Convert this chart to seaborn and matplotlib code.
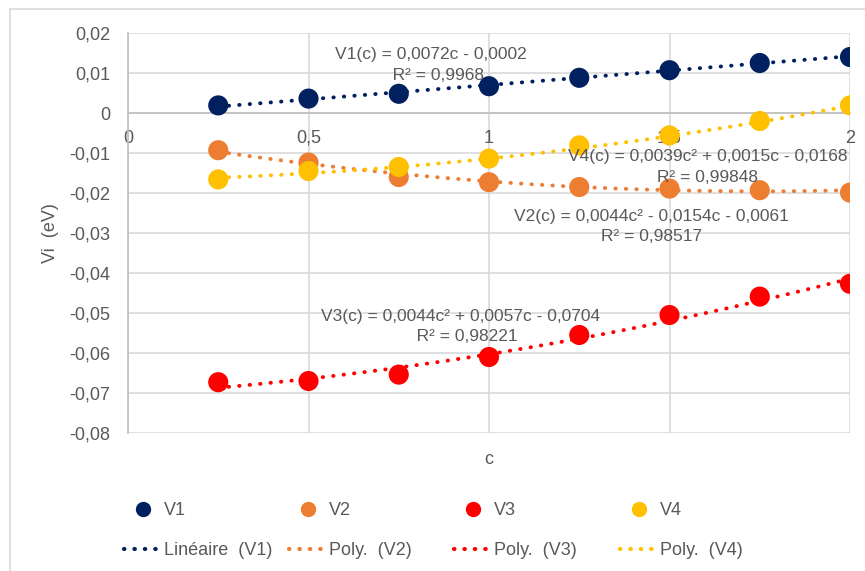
import numpy as np
import pandas as pd
import seaborn as sns
import matplotlib.pyplot as plt
from matplotlib.lines import Line2D
from matplotlib.patches import Rectangle

c = [0.25, 0.5, 0.75, 1.0, 1.25, 1.5, 1.75, 2.0]
v1 = [0.0019, 0.0036, 0.0048, 0.0067, 0.0088, 0.0107, 0.0125, 0.0140]
v2 = [-0.0093, -0.0124, -0.0160, -0.0173, -0.0185, -0.0189, -0.0193, -0.0199]
v3 = [-0.0673, -0.0670, -0.0654, -0.0610, -0.0555, -0.0505, -0.0459, -0.0427]
v4 = [-0.0166, -0.0145, -0.0135, -0.0114, -0.0081, -0.0056, -0.0020, 0.0019]

# trend line coefficients as shown on the chart (highest degree first)
fit_v1 = [0.0072, -0.0002]
fit_v2 = [0.0044, -0.0154, -0.0061]
fit_v3 = [0.0044, 0.0057, -0.0704]
fit_v4 = [0.0039, 0.0015, -0.0168]

series = ["V1", "V2", "V3", "V4"]
trend_labels = ["Linéaire  (V1)", "Poly.  (V2)", "Poly.  (V3)", "Poly.  (V4)"]
colors = {"V1": "#002060", "V2": "#ED7D31", "V3": "#FF0000", "V4": "#FFC000"}

yticks = [0.02, 0.01, 0, -0.01, -0.02, -0.03, -0.04, -0.05, -0.06, -0.07, -0.08]
xticks = [0, 0.5, 1, 1.5, 2]

df = pd.DataFrame({"c": c * 4, "Vi": v1 + v2 + v3 + v4,
                   "serie": [s for s in series for _ in c]})

sns.set_style("white")
plt.rcParams["font.family"] = ["Liberation Sans", "DejaVu Sans"]
grey = "#595959"

fig = plt.figure(figsize=(8.65, 5.71), dpi=100)
ax = fig.add_axes([128 / 865, 1 - 433 / 571, 722 / 865, 400 / 571])

# trend lines
cc = np.linspace(min(c), max(c), 200)
dot = (0, (0.1, 2.6))
for s, coef in zip(series, [fit_v1, fit_v2, fit_v3, fit_v4]):
    sns.lineplot(x=cc, y=np.polyval(coef, cc), ax=ax, color=colors[s],
                 lw=2.8, linestyle=dot, dash_capstyle="round", zorder=3)

sns.scatterplot(data=df, x="c", y="Vi", hue="serie", palette=colors, s=210,
                edgecolor="none", legend=False, ax=ax, zorder=4)

ax.set_xlim(0, 2)
ax.set_ylim(-0.08, 0.02)
ax.set_yticks(yticks)
ax.set_yticklabels([f"{t:g}".replace(".", ",") for t in yticks])
ax.set_xticks(xticks)
ax.set_xticklabels([f"{t:g}".replace(".", ",") for t in xticks])
ax.grid(True, color="#d9d9d9", lw=1.2)
ax.set_axisbelow(True)
for side in ["top", "right"]:
    ax.spines[side].set_visible(False)
ax.spines["left"].set_color("#bfbfbf")
ax.spines["left"].set_linewidth(1.2)
ax.spines["bottom"].set_position(("data", 0))
ax.spines["bottom"].set_color("#bfbfbf")
ax.spines["bottom"].set_linewidth(1.2)
ax.tick_params(axis="both", length=0, labelsize=13, labelcolor=grey)
ax.tick_params(axis="y", pad=13)
ax.tick_params(axis="x", pad=12)
ax.set_xlabel("c", fontsize=13, color=grey)
ax.xaxis.set_label_coords(0.5, -0.045)
ax.set_ylabel("Vi  (eV)", fontsize=13, color=grey)
ax.yaxis.set_label_coords(-0.095, 0.5)

eq_kw = dict(fontsize=12.5, color=grey, ha="center", va="center",
             multialignment="center", linespacing=1.45, zorder=5)
ax.text(0.84, 0.0120, "V1(c) = 0,0072c - 0,0002\n   R² = 0,9968", **eq_kw)
ax.text(1.605, -0.0135, "V4(c) = 0,0039c² + 0,0015c - 0,0168\nR² = 0,99848", **eq_kw)
ax.text(1.45, -0.0283, "V2(c) = 0,0044c² - 0,0154c - 0,0061\nR² = 0,98517", **eq_kw)
ax.text(0.92, -0.0533, "V3(c) = 0,0044c² + 0,0057c - 0,0704\n   R² = 0,98221", **eq_kw)

# legend: four columns placed individually
col_x = [124, 289, 454, 620]
for s, lab, x in zip(series, trend_labels, col_x):
    h_pt = Line2D([], [], ls="none", marker="o", ms=10, color=colors[s])
    h_ln = Line2D([], [], lw=3.0, linestyle=(0, (0.1, 2.4)),
                  dash_capstyle="round", color=colors[s])
    fig.legend(handles=[h_pt, h_ln], labels=[s, lab], loc="upper left",
               bbox_to_anchor=(x / 865, 1 - 502 / 571), frameon=False,
               fontsize=13, labelcolor=grey, handlelength=2.1,
               handletextpad=0.1, labelspacing=1.3, borderpad=0,
               borderaxespad=0)

fig.patches.append(Rectangle((10 / 865, -0.1), 1.2, 1 - 9 / 571 + 0.1,
                             transform=fig.transFigure, fill=False,
                             edgecolor="#d9d9d9", lw=1.2, zorder=0))

fig.savefig("out.png", dpi=100)
